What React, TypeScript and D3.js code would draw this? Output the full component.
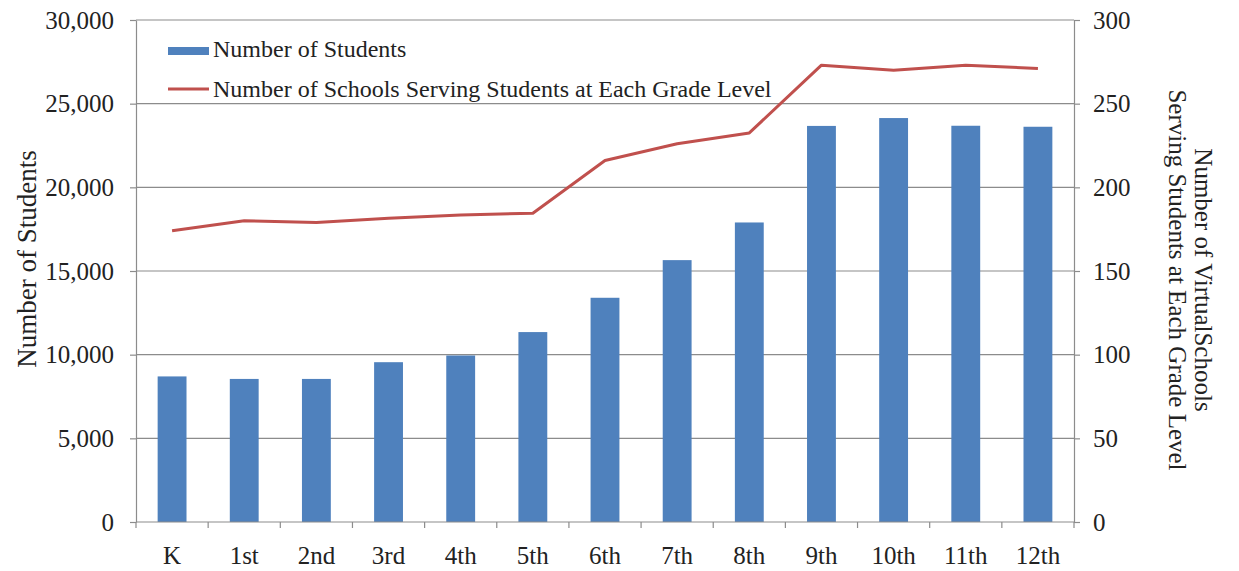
import React, { useEffect, useRef } from 'react';
import * as d3 from 'd3';

const grades = ['K', '1st', '2nd', '3rd', '4th', '5th', '6th', '7th', '8th', '9th', '10th', '11th', '12th'];
const students = [8700, 8550, 8550, 9550, 9950, 11350, 13400, 15650, 17900, 23670, 24140, 23680, 23620];
const schools = [174, 180, 179, 181.5, 183.5, 184.5, 216, 226, 232.5, 273, 270, 273, 271];
const leftTicks = [0, 5000, 10000, 15000, 20000, 25000, 30000];
const rightTicks = [0, 50, 100, 150, 200, 250, 300];

const FONT = '"Liberation Serif", "Times New Roman", serif';
const BAR = '#4F81BD';
const LINE = '#C0504D';
const AXIS = '#8c8c8c';

const App: React.FC = () => {
  const svgRef = useRef<SVGSVGElement>(null);

  useEffect(() => {
    if (!svgRef.current) return;
    const root = d3.select(svgRef.current);
    root.selectAll('*').remove();

    const left = 136, right = 1074, top = 20, bottom = 522;

    const x = d3.scaleBand().domain(grades).range([left, right]).paddingInner(0.6).paddingOuter(0.3);
    const yL = d3.scaleLinear().domain([0, 30000]).range([bottom, top]);
    const yR = d3.scaleLinear().domain([0, 300]).range([bottom, top]);

    // gridlines
    root.append('g')
      .selectAll('line')
      .data(leftTicks.slice(1))
      .join('line')
      .attr('x1', left).attr('x2', right)
      .attr('y1', d => yL(d)).attr('y2', d => yL(d))
      .attr('stroke', AXIS).attr('stroke-width', 1.2);

    // bars
    root.append('g')
      .selectAll('rect')
      .data(students)
      .join('rect')
      .attr('x', (d, i) => x(grades[i]) || 0)
      .attr('y', d => yL(d))
      .attr('width', x.bandwidth())
      .attr('height', d => bottom - yL(d))
      .attr('fill', BAR);

    // line
    const line = d3.line<number>()
      .x((d, i) => (x(grades[i]) || 0) + x.bandwidth() / 2)
      .y(d => yR(d));
    root.append('path')
      .datum(schools)
      .attr('d', line)
      .attr('fill', 'none')
      .attr('stroke', LINE)
      .attr('stroke-width', 3)
      .attr('stroke-linejoin', 'round');

    // axes
    const axisStyle = (g: d3.Selection<SVGGElement, unknown, null, undefined>) => {
      g.selectAll('.domain').attr('stroke', AXIS).attr('stroke-width', 1.2);
      g.selectAll('.tick line').attr('stroke', AXIS).attr('stroke-width', 1.2);
      g.selectAll('.tick text').attr('fill', '#222').style('font-family', FONT).style('font-size', '25px');
    };

    root.append('g')
      .attr('transform', `translate(${left},0)`)
      .call(d3.axisLeft(yL).tickValues(leftTicks).tickSize(6).tickSizeOuter(0).tickPadding(16).tickFormat(d3.format(',')))
      .call(axisStyle);

    root.append('g')
      .attr('transform', `translate(${right},0)`)
      .call(d3.axisRight(yR).tickValues(rightTicks).tickSize(6).tickSizeOuter(0).tickPadding(13))
      .call(axisStyle);

    // x axis: ticks at band boundaries
    const xg = root.append('g').attr('transform', `translate(0,${bottom})`);
    xg.append('line').attr('x1', left).attr('x2', right).attr('stroke', AXIS).attr('stroke-width', 1.2);
    const step = x.step();
    xg.selectAll('line.tk')
      .data(d3.range(grades.length + 1))
      .join('line')
      .attr('class', 'tk')
      .attr('x1', i => left + i * step).attr('x2', i => left + i * step)
      .attr('y1', 0).attr('y2', 6)
      .attr('stroke', AXIS).attr('stroke-width', 1.2);
    xg.selectAll('text')
      .data(grades)
      .join('text')
      .attr('x', d => (x(d) || 0) + x.bandwidth() / 2)
      .attr('y', 42)
      .attr('text-anchor', 'middle')
      .attr('fill', '#222')
      .style('font-family', FONT).style('font-size', '25px')
      .text(d => d);

    // axis titles
    root.append('text')
      .attr('transform', `translate(36,259) rotate(-90)`)
      .attr('text-anchor', 'middle')
      .attr('fill', '#222')
      .style('font-family', FONT).style('font-size', '27px')
      .text('Number of Students');

    const rt = root.append('text')
      .attr('transform', `translate(1195,280) rotate(90)`)
      .attr('text-anchor', 'middle')
      .attr('fill', '#222')
      .style('font-family', FONT).style('font-size', '25px');
    rt.append('tspan').attr('x', 0).attr('dy', 0).text('Number of VirtualSchools');
    rt.append('tspan').attr('x', 0).attr('dy', 26).text('Serving Students at Each Grade Level');

    // legend
    const lg = root.append('g').style('font-family', FONT).style('font-size', '24px');
    lg.append('rect').attr('x', 168).attr('y', 47).attr('width', 41).attr('height', 8).attr('fill', BAR);
    lg.append('text').attr('x', 213).attr('y', 57).attr('fill', '#222').text('Number of Students');
    lg.append('line').attr('x1', 168).attr('x2', 209).attr('y1', 89).attr('y2', 89).attr('stroke', LINE).attr('stroke-width', 3);
    lg.append('text').attr('x', 213).attr('y', 97).attr('fill', '#222').text('Number of Schools Serving Students at Each Grade Level');
  }, []);

  return (
    <svg
      ref={svgRef}
      width={1239}
      height={571}
      style={{ position: 'absolute', left: 0, top: 0, background: '#fff' }}
    />
  );
};

export default App;
